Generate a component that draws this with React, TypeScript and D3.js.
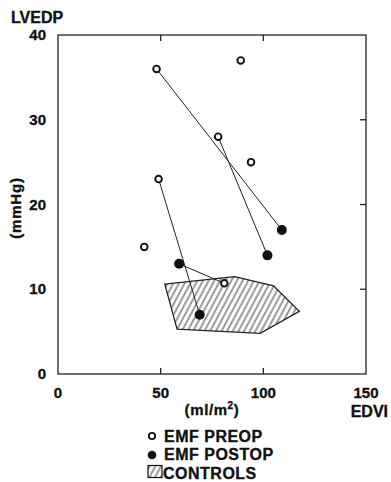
import React, { useEffect, useRef } from "react";
import * as d3 from "d3";

// EMF preop values (EDVI ml/m2, LVEDP mmHg)
const preopX = [48, 89, 78, 94, 49, 42, 81];
const preopY = [36, 37, 28, 25, 23, 15, 10.7];
// EMF postop values
const postopX = [109, 102, 69, 59];
const postopY = [17, 14, 7, 13];
// pairs: index into preop -> index into postop
const pairPre = [0, 2, 4, 6];
const pairPost = [0, 1, 2, 3];
// control region outline
const ctrlX = [52, 86, 105, 117.5, 98.5, 58];
const ctrlY = [10.6, 11.5, 10.4, 7.4, 4.8, 5.3];

const xTicks = [0, 50, 100, 150];
const yTicks = [0, 10, 20, 30, 40];

const App = () => {
  const svgRef = useRef<SVGSVGElement>(null);

  useEffect(() => {
    const W = 391;
    const H = 482;
    const left = 58, right = 366, top = 35, bottom = 374;
    const font = "'Liberation Sans', Arial, sans-serif";
    const ink = "#111";

    const root = d3.select(svgRef.current);
    root.selectAll("*").remove();
    root.attr("width", W).attr("height", H);

    root.append("rect").attr("width", W).attr("height", H).attr("fill", "#fff");

    const x = d3.scaleLinear().domain([0, 150]).range([left, right]);
    const y = d3.scaleLinear().domain([0, 40]).range([bottom, top]);

    const defs = root.append("defs");
    const pat = defs
      .append("pattern")
      .attr("id", "hatch")
      .attr("patternUnits", "userSpaceOnUse")
      .attr("width", 5)
      .attr("height", 10)
      .attr("patternTransform", "rotate(28)");
    pat.append("rect").attr("width", 5).attr("height", 10).attr("fill", "#fff");
    pat
      .append("line")
      .attr("x1", 1).attr("y1", 0).attr("x2", 1).attr("y2", 10)
      .attr("stroke", "#222").attr("stroke-width", 0.9);

    const g = root.append("g");

    const label = (sel: any, size: number) =>
      sel
        .attr("font-family", font)
        .attr("font-weight", "bold")
        .attr("font-size", size)
        .attr("fill", ink)
        .attr("stroke", ink)
        .attr("stroke-width", 0.35);

    // frame
    g.append("rect")
      .attr("x", left).attr("y", top)
      .attr("width", right - left).attr("height", bottom - top)
      .attr("fill", "none").attr("stroke", "#222").attr("stroke-width", 1.3);

    // inner ticks
    [50, 100].forEach((v) => {
      g.append("line").attr("x1", x(v)).attr("x2", x(v)).attr("y1", top).attr("y2", top + 6)
        .attr("stroke", "#222").attr("stroke-width", 1.3);
      g.append("line").attr("x1", x(v)).attr("x2", x(v)).attr("y1", bottom).attr("y2", bottom - 6)
        .attr("stroke", "#222").attr("stroke-width", 1.3);
    });
    [10, 20, 30].forEach((v) => {
      g.append("line").attr("x1", right).attr("x2", right - 6).attr("y1", y(v)).attr("y2", y(v))
        .attr("stroke", "#222").attr("stroke-width", 1.3);
    });

    // tick labels
    label(
      g.selectAll(".yt")
        .data(yTicks)
        .enter()
        .append("text")
        .attr("x", 46)
        .attr("y", (d) => y(d) + 5)
        .attr("text-anchor", "end"),
      15
    ).text((d) => d);

    label(
      g.selectAll(".xt")
        .data(xTicks)
        .enter()
        .append("text")
        .attr("x", (d) => x(d))
        .attr("y", 398)
        .attr("text-anchor", "middle"),
      15
    ).text((d) => d);

    // axis titles
    label(g.append("text").attr("x", 11).attr("y", 23), 16).text("LVEDP");
    label(g.append("text").attr("x", 388).attr("y", 417).attr("text-anchor", "end"), 16)
      .text("EDVI");
    const ml = label(
      g.append("text").attr("x", 212).attr("y", 415).attr("text-anchor", "middle")
        .attr("letter-spacing", 0.6),
      15
    );
    ml.append("tspan").text("(ml/m");
    ml.append("tspan").attr("dy", -6).attr("font-size", 10).text("2");
    ml.append("tspan").attr("dy", 6).text(")");
    label(
      g.append("text")
        .attr("transform", "translate(21,208) rotate(-90)")
        .attr("text-anchor", "middle")
        .attr("letter-spacing", 0.8),
      15
    ).text("(mmHg)");

    // controls polygon
    const pts = ctrlX.map((v, i) => [x(v), y(ctrlY[i])] as [number, number]);
    g.append("path")
      .attr("d", d3.line()(pts) + "Z")
      .attr("fill", "url(#hatch)")
      .attr("stroke", "#222").attr("stroke-width", 1.3);

    // connecting lines
    pairPre.forEach((pi, k) => {
      const qi = pairPost[k];
      g.append("line")
        .attr("x1", x(preopX[pi])).attr("y1", y(preopY[pi]))
        .attr("x2", x(postopX[qi])).attr("y2", y(postopY[qi]))
        .attr("stroke", "#222").attr("stroke-width", 1);
    });

    // preop markers
    g.selectAll(".pre")
      .data(preopX)
      .enter()
      .append("circle")
      .attr("cx", (d) => x(d))
      .attr("cy", (d, i) => y(preopY[i]))
      .attr("r", 3.3)
      .attr("fill", "#fff").attr("stroke", ink).attr("stroke-width", 1.9);

    // postop markers
    g.selectAll(".post")
      .data(postopX)
      .enter()
      .append("circle")
      .attr("cx", (d) => x(d))
      .attr("cy", (d, i) => y(postopY[i]))
      .attr("r", 5)
      .attr("fill", ink);

    // legend
    const lg = g.append("g");
    lg.append("circle").attr("cx", 152).attr("cy", 436).attr("r", 3.2)
      .attr("fill", "#fff").attr("stroke", ink).attr("stroke-width", 1.8);
    label(lg.append("text").attr("x", 164).attr("y", 441.5).attr("letter-spacing", 0.5), 16)
      .text("EMF PREOP");
    lg.append("circle").attr("cx", 152).attr("cy", 455).attr("r", 4.3).attr("fill", ink);
    label(lg.append("text").attr("x", 164).attr("y", 460).attr("letter-spacing", 0.5), 16)
      .text("EMF POSTOP");
    lg.append("rect").attr("x", 148).attr("y", 465.5).attr("width", 14).attr("height", 12)
      .attr("fill", "url(#hatch)").attr("stroke", ink).attr("stroke-width", 1.2);
    label(lg.append("text").attr("x", 163).attr("y", 478.5).attr("letter-spacing", 0.5), 16)
      .text("CONTROLS");
  }, []);

  return (
    <svg
      ref={svgRef}
      style={{ position: "absolute", left: 0, top: 0, display: "block" }}
    ></svg>
  );
};

export default App;
